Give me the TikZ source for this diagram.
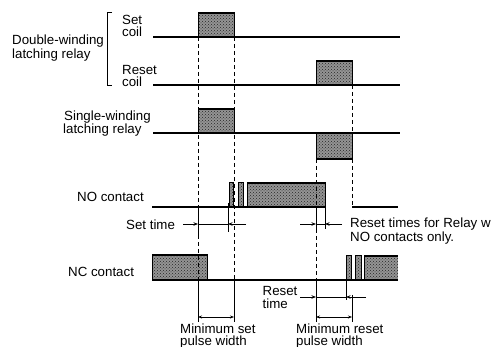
\documentclass[tikz,border=0pt]{standalone}
\usepackage{fontspec}
\setmainfont{Liberation Sans}
\usetikzlibrary{patterns,arrows.meta}
\begin{document}
\begin{tikzpicture}[x=1pt,y=-1pt,
  sig/.style={line width=1.3pt},
  pulse/.style={preaction={fill=black!42}, pattern=crosshatch dots, pattern color=black!85},
  pedge/.style={line width=1pt},
  thickedge/.style={line width=2.2pt},
  guide/.style={line width=1pt, dash pattern=on 4pt off 3pt},
  dim/.style={line width=0.9pt},
  intip/.style={line width=0.9pt, -{Stealth[length=4.5pt,width=3.5pt]}},
  both/.style={line width=0.9pt, {Stealth[length=4pt,width=3pt]}-{Stealth[length=4pt,width=3pt]}},
  lbl/.style={inner sep=0pt, anchor=base west, font=\fontsize{13.3}{13}\selectfont}]
\useasboundingbox (0,0) rectangle (491,347);

% labels
\node[lbl] (dw1) at (12,45) {Double-winding};
\node[lbl] (dw2) at (12,58.2) {latching relay};
\node[lbl] (sc1) at (122,25) {Set};
\node[lbl] (sc2) at (122,37) {coil};
\node[lbl] (rc1) at (122,75) {Reset};
\node[lbl] (rc2) at (122,87) {coil};
\node[lbl] (sw1) at (64,121) {Single-winding};
\node[lbl] (sw2) at (63,134) {latching relay};
\node[lbl] (no) at (77,202) {NO contact};
\node[lbl] (st) at (126,230) {Set time};
\node[lbl] (rt1) at (350,228) {Reset times for Relay w};
\node[lbl] (rt2) at (350,242) {NO contacts only.};
\node[lbl] (nc) at (68,277) {NC contact};
\node[lbl] (rs1) at (262.5,296) {Reset};
\node[lbl] (rs2) at (262.5,309) {time};
\node[lbl] (ms1) at (180,333.5) {Minimum set};
\node[lbl] (ms2) at (180,345.5) {pulse width};
\node[lbl] (mr1) at (296,333.5) {Minimum reset};
\node[lbl] (mr2) at (296,345.5) {pulse width};

% bracket
\draw[line width=1pt] (112,13) -- (107,13) -- (107,86) -- (112,86);

% pulses (fills)
\fill[pulse] (198,13) rectangle (234,37);
\fill[pulse] (316,61) rectangle (352,85);
\fill[pulse] (198,109) rectangle (234,133);
\fill[pulse] (316,133) rectangle (352,159);
\fill[pulse] (229,183) rectangle (233,207);
\fill[pulse] (238,183) rectangle (243,207);
\fill[pulse] (247,183) rectangle (325,207);
\fill[pulse] (152,255) rectangle (207,280);
\fill[pulse] (346,256) rectangle (351,280);
\fill[pulse] (355,256) rectangle (361,280);
\fill[pulse] (364,256) rectangle (398,280);

% pulse outlines
\draw[pedge] (198,37) -- (198,13) -- (234,13) -- (234,37);
\draw[thickedge] (198,13) -- (234,13);
\draw[pedge] (316,85) -- (316,61) -- (352,61) -- (352,85);
\draw[thickedge] (316,61) -- (352,61);
\draw[pedge] (198,133) -- (198,109) -- (234,109) -- (234,133);
\draw[thickedge] (198,109) -- (234,109);
\draw[pedge] (316,133) -- (316,159) -- (352,159) -- (352,133);
\draw[thickedge] (316,159) -- (352,159);
\draw[pedge] (229,207) -- (229,183) -- (233,183) -- (233,207);
\draw[pedge] (238,207) -- (238,183) -- (243,183) -- (243,207);
\draw[pedge] (247,207) -- (247,183) -- (325,183) -- (325,207);
\draw[thickedge] (247,183) -- (325,183);
\draw[pedge] (152,280) -- (152,255) -- (207,255) -- (207,280);
\draw[thickedge] (152,255) -- (207,255);
\draw[pedge] (346,280) -- (346,256) -- (351,256) -- (351,280);
\draw[pedge] (355,280) -- (355,256) -- (361,256) -- (361,280);
\draw[pedge] (364,280) -- (364,256) -- (398,256);
\draw[thickedge] (364,256) -- (398,256);

% baselines
\draw[sig] (153,37) -- (400,37);
\draw[sig] (153,85) -- (400,85);
\draw[sig] (153,133) -- (400,133);
\draw[sig] (152,207) -- (325,207);
\draw[sig] (352,207) -- (398,207);
\draw[sig] (152,280) -- (398,280);

% dashed guides
\draw[guide] (198,37) -- (198,207);
\draw[guide] (198,235) -- (198,280);
\draw[guide] (234,37) -- (234,280);
\draw[guide] (316,159) -- (316,207);
\draw[guide] (316,229) -- (316,280);
\draw[guide] (352,85) -- (352,133);
\draw[guide] (352,159) -- (352,207);

% set time
\draw[dim] (198,207) -- (198,235);
\draw[dim] (228,203) -- (228,232);
\draw[dim] (198,224) -- (228,224);
\draw[intip] (183,224) -- (198,224);
\draw[intip] (246,224) -- (228,224);

% reset times (NO)
\draw[dim] (316,207) -- (316,229);
\draw[dim] (325,207) -- (325,229);
\draw[dim] (316,224) -- (325,224);
\draw[intip] (300,224) -- (316,224);
\draw[intip] (342,224) -- (325,224);

% minimum set pulse width
\draw[dim] (198,280) -- (198,322);
\draw[dim] (234,280) -- (234,322);
\draw[both] (198,317) -- (234,317);

% reset time (NC) and minimum reset pulse width
\draw[dim] (316,280) -- (316,322);
\draw[dim] (352,295) -- (352,322);
\draw[dim] (346,275) -- (346,300);
\draw[dim] (316,297) -- (346,297);
\draw[intip] (300,297) -- (316,297);
\draw[intip] (366,297) -- (346,297);
\draw[both] (316,317) -- (352,317);
\end{tikzpicture}
\end{document}
